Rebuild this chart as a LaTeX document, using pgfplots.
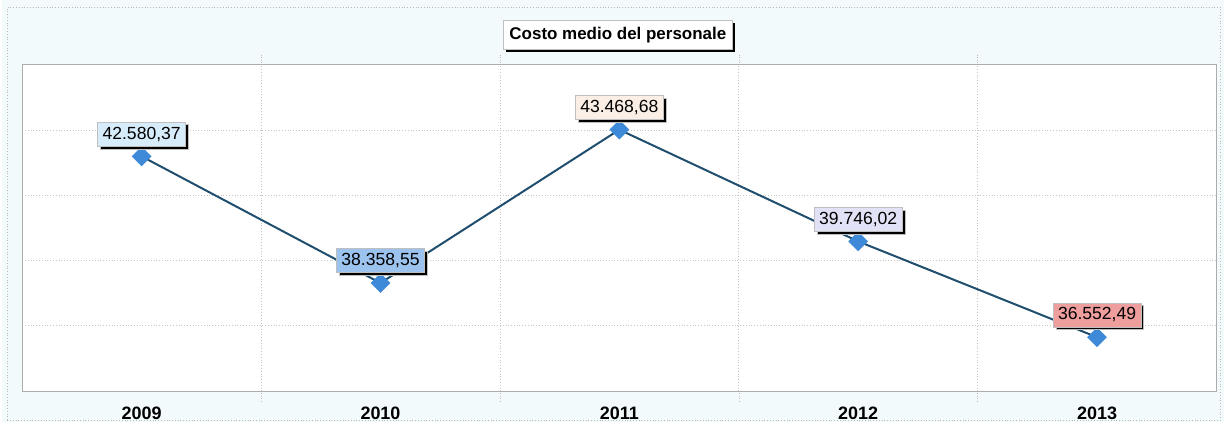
\documentclass[border=0pt]{standalone}
\usepackage{pgfplots}
\pgfplotsset{compat=1.18}
\usepackage{fontspec}
\setmainfont{Liberation Sans}
\usetikzlibrary{shadows}
\definecolor{bgc}{HTML}{F3FAFC}
\definecolor{linec}{HTML}{1F4E6E}
\definecolor{markc}{HTML}{3E8AD9}
\definecolor{lab0}{HTML}{D6ECFB}
\definecolor{lab1}{HTML}{9CC3EE}
\definecolor{lab2}{HTML}{FBEFE5}
\definecolor{lab3}{HTML}{E2E2F7}
\definecolor{lab4}{HTML}{EE9E9C}
\begin{document}
\begin{tikzpicture}
\fill[bgc] (0pt,0pt) rectangle (612.5pt,211.5pt);
\draw[gray!55, densely dotted] (2.5pt,1pt) rectangle (610.5pt,208pt);
\begin{axis}[
  at={(10pt,15.5pt)}, anchor=south west,
  scale only axis, width=598.5pt, height=163.5pt,
  xmin=-0.5, xmax=4.5, ymin=34757, ymax=45630,
  scaled y ticks=false,
  xtick={0,1,2,3,4}, xticklabels={2009,2010,2011,2012,2013},
  major x tick style={draw=none},
  minor xtick={0.5,1.5,2.5,3.5},
  xminorgrids=true,
  minor tick length=5pt, tick align=outside,
  minor x tick style={gray!55, densely dotted},
  ytick={36931.6,39106.2,41280.8,43455.4}, yticklabels={},
  major y tick style={draw=none},
  ymajorgrids=true,
  grid style={gray!45, densely dotted},
  minor grid style={gray!45, densely dotted},
  axis background/.style={fill=white},
  axis line style={gray!65},
  xticklabel style={font=\bfseries\fontsize{9}{10}\selectfont},
  clip=false,
]
\addplot[color=linec, line width=1pt, mark=square*, mark size=3pt,
  mark options={fill=markc, draw=markc, rotate=45},
  nodes near coords, point meta=explicit symbolic,
  visualization depends on={value \thisrow{c} \as \labcol},
  every node near coord/.style={fill=\labcol, draw=gray!50, line width=0.3pt,
    inner sep=2.4pt, text=black, font=\fontsize{8.8}{10}\selectfont,
    drop shadow={shadow xshift=1.4pt, shadow yshift=-1.4pt, opacity=1, fill=black},
    anchor=south, yshift=5pt}]
table[x=x, y=y, meta=lab] {
x y lab c
0 42580.37 42.580,37 lab0
1 38358.55 38.358,55 lab1
2 43468.68 43.468,68 lab2
3 39746.02 39.746,02 lab3
4 36552.49 36.552,49 lab4
};
\end{axis}
\node[fill=white, draw=gray!50, line width=0.3pt, inner sep=3.2pt,
  font=\bfseries\fontsize{8.5}{10}\selectfont,
  drop shadow={shadow xshift=1.4pt, shadow yshift=-1.4pt, opacity=1, fill=black}]
  at (308.5pt,194pt) {Costo medio del personale};
\end{tikzpicture}
\end{document}
